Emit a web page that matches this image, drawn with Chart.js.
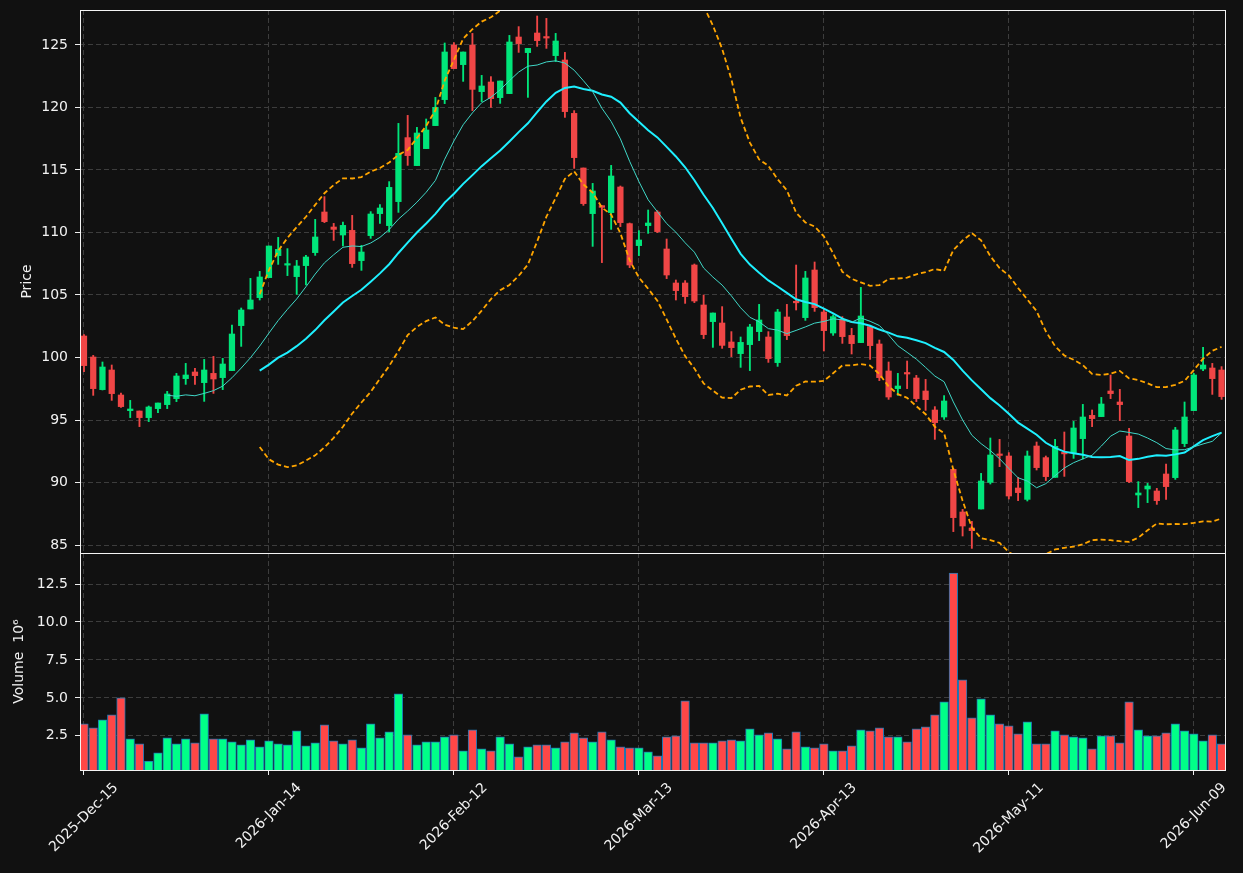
<!DOCTYPE html>
<html>
<head>
<meta charset="utf-8">
<script src="https://cdn.jsdelivr.net/npm/chart.js@4.4.1/dist/chart.umd.min.js"></script>
<style>
  html, body { margin: 0; padding: 0; background: #111111; }
  #wrap { position: relative; width: 1243px; height: 873px; overflow: hidden; }
  canvas { position: absolute; left: 0; }
  #price { top: 0; }
  #vol { top: 545px; }
</style>
</head>
<body>
<div id="wrap">
  <canvas id="price" width="1243" height="560"></canvas>
  <canvas id="vol" width="1243" height="328"></canvas>
</div>
<script>
// x positions are trading-day indexes; a date label every 20 sessions
const tickIndex = [0, 20, 40, 60, 80, 100, 120];
const tickLabels = ['2025-Dec-15', '2026-Jan-14', '2026-Feb-12', '2026-Mar-13', '2026-Apr-13', '2026-May-11', '2026-Jun-09'];
const priceTicks = [85, 90, 95, 100, 105, 110, 115, 120, 125];
const volumeTicks = [2.5, 5, 7.5, 10, 12.5];

const open = [
  101.72, 100.04, 97.43, 99.00, 97.00, 95.75, 95.72, 95.19, 95.91, 96.23,
  96.71, 98.31, 98.84, 97.99, 98.73, 98.39, 98.95, 102.55, 103.88, 104.79,
  106.39, 108.15, 107.43, 106.47, 107.35, 108.39, 111.64, 110.44, 109.80, 110.17,
  107.75, 109.75, 111.51, 110.55, 112.47, 117.59, 115.35, 116.71, 118.55, 120.63,
  125.00, 123.43, 125.00, 121.27, 122.04, 120.79, 121.11, 125.64, 124.39, 125.96,
  125.63, 124.15, 123.80, 119.53, 115.16, 111.51, 112.15, 111.59, 113.64, 110.71,
  108.95, 110.55, 111.64, 108.68, 105.96, 105.96, 107.40, 104.20, 102.87, 102.76,
  101.24, 100.31, 101.03, 102.07, 101.64, 99.59, 103.24, 104.47, 103.19, 107.00,
  103.64, 101.96, 103.05, 101.77, 101.19, 102.47, 101.08, 98.92, 97.51, 98.76,
  98.36, 97.32, 95.80, 95.24, 91.05, 87.64, 86.36, 87.88, 90.01, 92.25,
  92.12, 89.56, 88.65, 92.92, 91.99, 90.41, 92.40, 92.39, 93.51, 95.37,
  95.27, 97.32, 96.44, 93.72, 89.00, 89.48, 89.32, 90.68, 90.39, 93.11,
  95.75, 99.08, 99.16, 99.00
];
const high = [
  101.83, 100.17, 99.64, 99.40, 97.16, 96.57, 95.72, 96.12, 96.36, 97.29,
  98.73, 99.53, 99.13, 99.85, 100.09, 99.93, 102.60, 103.96, 106.33, 106.89,
  108.92, 109.61, 108.71, 107.77, 108.17, 111.05, 112.87, 110.73, 110.84, 111.37,
  108.97, 111.67, 112.23, 114.07, 118.73, 119.37, 118.41, 119.08, 120.81, 125.16,
  125.19, 124.44, 125.93, 122.57, 122.47, 122.12, 125.77, 126.47, 124.73, 127.32,
  127.13, 125.93, 124.41, 119.75, 115.16, 113.93, 112.15, 115.37, 113.72, 110.76,
  110.15, 111.80, 111.75, 109.48, 106.20, 106.15, 107.48, 105.00, 103.56, 104.07,
  102.07, 101.64, 102.65, 104.25, 102.07, 103.85, 104.25, 107.40, 106.89, 107.64,
  103.91, 103.40, 103.27, 102.33, 105.61, 102.47, 101.40, 99.64, 98.73, 99.72,
  98.57, 98.25, 96.07, 96.95, 91.13, 87.85, 86.89, 90.73, 93.56, 93.45,
  92.39, 90.41, 92.52, 93.24, 92.12, 93.45, 94.04, 94.89, 96.25, 95.80,
  96.81, 98.60, 97.45, 94.33, 90.07, 89.93, 89.53, 91.48, 94.41, 96.44,
  98.73, 100.81, 99.53, 99.27
];
const low = [
  98.87, 96.97, 97.40, 96.57, 96.00, 95.19, 94.47, 94.87, 95.59, 95.91,
  96.47, 97.85, 97.85, 96.49, 97.13, 97.43, 98.95, 100.89, 103.88, 104.60,
  106.39, 107.45, 106.55, 105.05, 105.80, 108.17, 110.79, 109.37, 108.92, 107.21,
  106.97, 109.53, 110.73, 110.04, 111.61, 115.37, 115.35, 116.71, 118.55, 120.31,
  123.10, 122.09, 119.75, 120.47, 120.01, 120.33, 121.11, 124.41, 120.81, 124.89,
  124.73, 123.67, 119.21, 115.13, 112.17, 108.89, 107.59, 110.25, 110.47, 107.19,
  108.15, 109.93, 109.99, 106.31, 104.60, 104.33, 104.39, 101.51, 100.81, 100.73,
  100.07, 99.21, 98.95, 101.35, 99.61, 99.29, 101.43, 103.80, 102.97, 103.69,
  100.52, 101.77, 101.13, 100.28, 101.19, 99.85, 98.15, 96.65, 96.97, 97.51,
  96.47, 95.77, 93.45, 95.05, 86.07, 85.72, 84.73, 87.88, 89.88, 91.27,
  88.68, 88.55, 88.52, 91.00, 90.15, 90.41, 90.49, 91.93, 91.88, 94.47,
  95.27, 96.71, 94.95, 89.99, 87.99, 88.39, 88.25, 88.65, 90.25, 92.87,
  95.75, 98.95, 97.05, 96.65
];
const close = [
  99.35, 97.51, 99.24, 97.11, 96.07, 95.88, 95.19, 96.04, 96.36, 97.08,
  98.52, 98.60, 98.55, 99.00, 98.28, 99.48, 101.88, 103.80, 104.60, 106.44,
  108.92, 108.65, 107.47, 107.32, 108.04, 109.64, 110.87, 110.25, 110.57, 107.51,
  108.44, 111.48, 111.96, 113.61, 116.33, 116.15, 117.96, 118.20, 120.01, 124.44,
  123.11, 124.44, 121.45, 121.72, 120.71, 122.12, 125.24, 125.11, 124.73, 125.35,
  125.60, 125.32, 119.67, 115.99, 112.31, 113.32, 112.01, 114.52, 110.79, 107.40,
  109.40, 110.76, 110.07, 106.60, 105.35, 104.87, 104.52, 101.83, 103.56, 100.97,
  100.79, 101.21, 102.44, 103.00, 99.91, 103.64, 101.75, 104.40, 106.36, 103.99,
  102.15, 103.27, 101.67, 101.11, 103.32, 100.95, 98.39, 96.84, 97.72, 98.72,
  96.71, 96.63, 94.79, 96.52, 87.19, 86.52, 86.15, 90.12, 92.20, 92.20,
  88.92, 89.19, 92.12, 91.19, 90.47, 92.89, 92.30, 94.36, 95.24, 95.11,
  96.28, 97.11, 96.23, 90.07, 89.16, 89.72, 88.55, 89.67, 94.20, 95.24,
  98.60, 99.40, 98.31, 96.87
];
// volume in millions
const volume = [
  3.29, 3.03, 3.55, 3.88, 5.00, 2.30, 1.97, 0.83, 1.38, 2.37,
  1.97, 2.30, 2.04, 3.95, 2.30, 2.30, 2.11, 1.91, 2.24, 1.78,
  2.17, 1.97, 1.91, 2.83, 1.84, 2.04, 3.22, 2.17, 1.97, 2.24,
  1.71, 3.29, 2.37, 2.76, 5.26, 2.57, 1.91, 2.11, 2.11, 2.43,
  2.57, 1.51, 2.90, 1.64, 1.51, 2.43, 1.97, 1.12, 1.78, 1.91,
  1.91, 1.71, 2.11, 2.70, 2.37, 2.11, 2.76, 2.24, 1.78, 1.71,
  1.71, 1.45, 1.18, 2.43, 2.50, 4.80, 2.04, 2.04, 2.04, 2.17,
  2.24, 2.17, 2.96, 2.57, 2.70, 2.30, 1.64, 2.76, 1.78, 1.71,
  1.97, 1.51, 1.51, 1.84, 2.90, 2.83, 3.03, 2.43, 2.43, 2.11,
  2.96, 3.09, 3.88, 4.74, 13.22, 6.18, 3.68, 4.93, 3.88, 3.29,
  3.16, 2.63, 3.42, 1.97, 1.97, 2.83, 2.57, 2.43, 2.37, 1.64,
  2.50, 2.50, 2.04, 4.74, 2.90, 2.50, 2.50, 2.70, 3.29, 2.83,
  2.63, 2.17, 2.57, 1.97
];

const UP = '#00e57a', DOWN = '#f04646';
const VOL_UP = '#00ff88', VOL_DOWN = '#ff4747';
const TEXT = '#f2f2f2';
const FONT = 'DejaVu Sans';

function sma(values, n) {
  return values.map((_, i) => {
    if (i < n - 1) return null;
    let s = 0;
    for (let k = i - n + 1; k <= i; k++) s += values[k];
    return s / n;
  });
}

function rollingStd(values, n) {
  const mean = sma(values, n);
  return values.map((_, i) => {
    if (mean[i] === null) return null;
    let s = 0;
    for (let k = i - n + 1; k <= i; k++) s += (values[k] - mean[i]) ** 2;
    return Math.sqrt(s / (n - 1));
  });
}

const sma10 = sma(close, 10);
const sma20 = sma(close, 20);
const sd20 = rollingStd(close, 20);
const bbUpper = sma20.map((m, i) => (m === null ? null : m + 2 * sd20[i]));
const bbLower = sma20.map((m, i) => (m === null ? null : m - 2 * sd20[i]));

const isUp = close.map((c, i) => c >= open[i]);
const toPoints = (arr) => arr.map((v, i) => (v === null ? null : { x: i, y: v })).filter(Boolean);

const wicks = close.map((_, i) => ({ x: i, y: [low[i], high[i]] }));
const bodies = close.map((c, i) => {
  let lo = Math.min(open[i], c), hi = Math.max(open[i], c);
  if (hi - lo < 0.12) { const m = (hi + lo) / 2; lo = m - 0.06; hi = m + 0.06; } // keep dojis visible
  return { x: i, y: [lo, hi] };
});
const volBars = volume.map((v, i) => ({ x: i, y: v }));

const X_MIN = -0.43, X_MAX = 123.48;

function xScale(showTickMarks) {
  return {
    type: 'linear',
    min: X_MIN,
    max: X_MAX,
    offset: false,
    afterBuildTicks: (s) => { s.ticks = tickIndex.map((v) => ({ value: v })); },
    afterFit: (s) => { s.height = 0; s.paddingLeft = 0; s.paddingRight = 0; },
    ticks: { display: false },
    grid: {
      offset: false,
      color: '#3d3d3d',
      lineWidth: 1,
      drawTicks: showTickMarks,
      tickLength: 5,
      tickColor: '#eeeeee',
      tickWidth: 1,
      tickBorderDash: [],
    },
    border: { display: false, dash: [5, 3] },
  };
}

function yScale(min, max, ticks, fmt) {
  return {
    type: 'linear',
    min: min,
    max: max,
    afterBuildTicks: (s) => { s.ticks = ticks.map((v) => ({ value: v })); },
    // labels never sit on the panel edges, so no extra room is needed
    afterFit: (s) => { s.width = 80; s.paddingTop = 0; s.paddingBottom = 0; },
    ticks: { color: TEXT, font: { family: FONT, size: 14 }, padding: 7, callback: fmt },
    grid: {
      color: '#3d3d3d',
      lineWidth: 1,
      tickLength: 5,
      tickColor: '#eeeeee',
      tickWidth: 1,
      tickBorderDash: [],
    },
    border: { display: false, dash: [5, 3] },
  };
}

function frame(ctx, a) {
  ctx.save();
  ctx.strokeStyle = '#f4f4f4';
  ctx.lineWidth = 1;
  ctx.strokeRect(a.left + 0.5, a.top + 0.5, a.width - 1, a.height);
  ctx.restore();
}

function verticalText(ctx, text, x, y) {
  ctx.save();
  ctx.translate(x, y);
  ctx.rotate(-Math.PI / 2);
  ctx.fillStyle = TEXT;
  ctx.font = '14px "' + FONT + '"';
  ctx.textAlign = 'center';
  ctx.textBaseline = 'middle';
  ctx.fillText(text, 0, 0);
  ctx.restore();
}

const pricePanel = {
  id: 'pricePanel',
  afterDraw(chart) {
    const { ctx, chartArea } = chart;
    frame(ctx, chartArea);
    verticalText(ctx, 'Price', 27, (chartArea.top + chartArea.bottom) / 2);
  },
};

const volumePanel = {
  id: 'volumePanel',
  afterDraw(chart) {
    const { ctx, chartArea } = chart;
    frame(ctx, chartArea);
    verticalText(ctx, 'Volume  10\u2076', 19, (chartArea.top + chartArea.bottom) / 2);
    // date labels, rotated 45 degrees and centred under their ticks
    const x = chart.scales.x;
    ctx.save();
    ctx.fillStyle = TEXT;
    ctx.font = '14px "' + FONT + '"';
    ctx.textAlign = 'center';
    ctx.textBaseline = 'middle';
    const h = 16;
    tickIndex.forEach((idx, k) => {
      const w = ctx.measureText(tickLabels[k]).width;
      const cx = x.getPixelForValue(idx);
      const cy = chartArea.bottom + 10 + (w + h) * Math.SQRT1_2 / 2;
      ctx.save();
      ctx.translate(cx, cy);
      ctx.rotate(-Math.PI / 4);
      ctx.fillText(tickLabels[k], 0, 0);
      ctx.restore();
    });
    ctx.restore();
  },
};

const common = {
  responsive: false,
  animation: false,
  events: [],
  plugins: { legend: { display: false }, tooltip: { enabled: false } },
};

new Chart(document.getElementById('price'), {
  type: 'bar',
  data: {
    datasets: [
      { type: 'line', data: toPoints(sma10), borderColor: '#40d8c8', borderWidth: 1, pointRadius: 0, tension: 0, order: 0 },
      { type: 'line', data: toPoints(sma20), borderColor: '#1ef0ff', borderWidth: 2, pointRadius: 0, tension: 0, order: 0 },
      { type: 'line', data: toPoints(bbUpper), borderColor: '#ffa500', borderWidth: 1.8, borderDash: [5, 3], pointRadius: 0, tension: 0, order: 0 },
      { type: 'line', data: toPoints(bbLower), borderColor: '#ffa500', borderWidth: 1.8, borderDash: [5, 3], pointRadius: 0, tension: 0, order: 0 },
      { data: bodies, backgroundColor: isUp.map((u) => (u ? UP : DOWN)), barThickness: 5.6, grouped: false, order: 2 },
      { data: wicks, backgroundColor: isUp.map((u) => (u ? UP : DOWN)), barThickness: 1.2, grouped: false, order: 3 },
    ],
  },
  options: {
    ...common,
    layout: { padding: { left: 0, right: 17, top: 10, bottom: 7 } },
    scales: {
      x: xScale(false),
      y: yScale(84.36, 127.8, priceTicks, (v) => String(v)),
    },
  },
  plugins: [pricePanel],
});

const volMax = 1.1 * Math.max(...volume);
const volMin = 0.3 * Math.min(...volume);

new Chart(document.getElementById('vol'), {
  type: 'bar',
  data: {
    datasets: [
      {
        data: volBars,
        backgroundColor: isUp.map((u) => (u ? VOL_UP : VOL_DOWN)),
        borderColor: '#1f77b4',
        borderWidth: 1,
        borderSkipped: false,
        barThickness: 8.6,
        grouped: false,
      },
    ],
  },
  options: {
    ...common,
    layout: { padding: { left: 0, right: 17, top: 8, bottom: 103 } },
    scales: {
      x: xScale(true),
      y: yScale(volMin, volMax, volumeTicks, (v) => v.toFixed(1)),
    },
  },
  plugins: [volumePanel],
});
</script>
</body>
</html>
